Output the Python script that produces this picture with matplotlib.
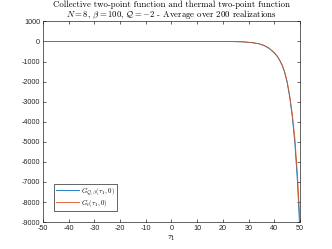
import numpy as np
import matplotlib.pyplot as plt

plt.rcParams['mathtext.fontset'] = 'cm'
plt.rcParams['font.family'] = 'Liberation Sans'
plt.rcParams['axes.unicode_minus'] = False

# values
tau = [-50, -40, -30, -20, -10, 0, 10, 20, 25, 28, 30, 32, 34, 36, 38, 40,
       41, 42, 43, 44, 45, 46, 47, 48, 49, 50]
g_collective = [0, 0, 0, 0, 0, 0, 0, -2, -8, -20, -40, -70, -115, -200, -345, -570,
                -720, -920, -1170, -1530, -2040, -2780, -3750, -5050, -6950, -9600]
g_thermal = [0, 0, 0, 0, 0, 0, 0, -2, -8, -20, -40, -70, -110, -195, -335, -555,
             -700, -900, -1140, -1490, -1980, -2680, -3600, -4800, -6600, -9000]

blue = '#0072BD'
orange = '#D95319'

fig = plt.figure(figsize=(3.32, 2.49), dpi=100)
ax = fig.add_axes([0.1295, 0.108, 0.774, 0.806])

ax.plot(tau, g_collective, color=blue, lw=0.6, label=r'$G_{\mathcal{Q},\beta}(\tau_1,0)$')
ax.plot(tau, g_thermal, color=orange, lw=0.6, label=r'$G_t(\tau_1,0)$')

ax.set_xlim(-50, 50)
ax.set_ylim(-9000, 1000)
ax.set_xticks(np.arange(-50, 51, 10))
ax.set_yticks(np.arange(-9000, 1001, 1000))
ax.tick_params(direction='in', length=2.5, width=0.5, labelsize=5.2, colors='#262626',
               top=True, right=True, pad=2)
for s in ax.spines.values():
    s.set_linewidth(0.5)
    s.set_color('#262626')

ax.set_xlabel(r'$\tau_1$', fontsize=6.5, labelpad=1)
ax.set_title('Collective two-point function and thermal two-point function\n'
             r'$N=8$, $\beta=100$, $\mathcal{Q}=-2$ - Average over 200 realizations',
             fontsize=6.3, family='cmr10', pad=3, linespacing=1.05)

leg = ax.legend(loc='lower left', fontsize=5, handlelength=3.3, fancybox=False,
                edgecolor='#262626', framealpha=1, borderaxespad=1.6,
                borderpad=0.3, labelspacing=0.2, handletextpad=0.3)
leg.get_frame().set_linewidth(0.5)

fig.savefig('out.png', dpi=100)
